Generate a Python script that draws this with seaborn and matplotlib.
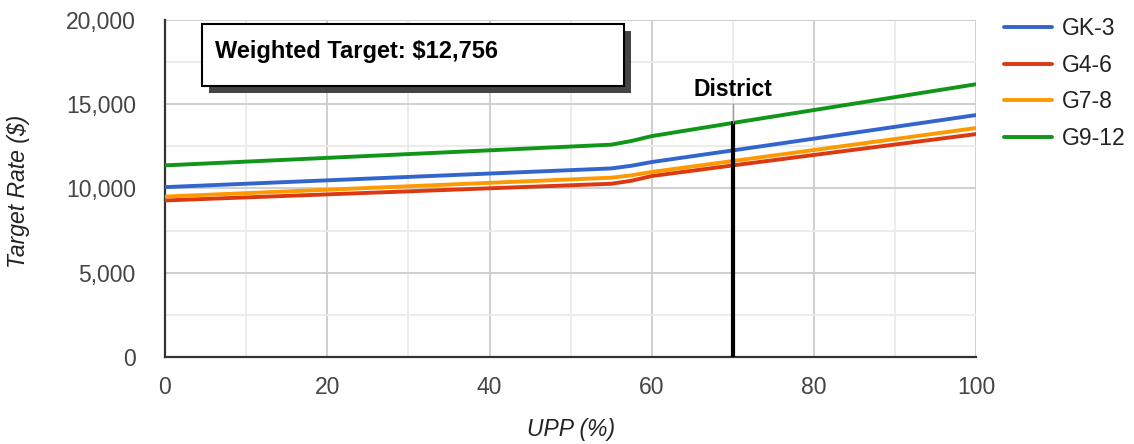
import numpy as np
import pandas as pd
import matplotlib.pyplot as plt
import seaborn as sns
from matplotlib.patches import Rectangle
from matplotlib.ticker import MultipleLocator, FuncFormatter

# данные
upp = [0, 55, 57.5, 60, 70, 100]
gk3 = [10080, 11190, 11350, 11570, 12260, 14360]
g46 = [9290, 10280, 10460, 10740, 11370, 13230]
g78 = [9520, 10640, 10780, 10980, 11630, 13590]
g912 = [11370, 12600, 12820, 13110, 13890, 16190]
grades = ['GK-3', 'G4-6', 'G7-8', 'G9-12']
colors = ['#3366cc', '#dc3912', '#ff9900', '#109618']
district_upp = 70
district_top = 13890
weighted_text = 'Weighted Target: $12,756'

df = pd.DataFrame({'UPP': upp * 4,
                   'rate': gk3 + g46 + g78 + g912,
                   'grade': np.repeat(grades, len(upp))})

sns.set_style('white')
plt.rcParams['font.family'] = ['Liberation Sans', 'DejaVu Sans']
fs = 16.5

fig = plt.figure(figsize=(11.34, 4.44), dpi=100)
ax = fig.add_axes([0.1455, 0.196, 0.7155, 0.759])

sns.lineplot(data=df, x='UPP', y='rate', hue='grade', hue_order=grades,
             palette=dict(zip(grades, colors)), linewidth=2.8, ax=ax, zorder=3)

ax.set_xlim(0, 100)
ax.set_ylim(0, 20000)
ax.xaxis.set_major_locator(MultipleLocator(20))
ax.xaxis.set_minor_locator(MultipleLocator(10))
ax.yaxis.set_major_locator(MultipleLocator(5000))
ax.yaxis.set_minor_locator(MultipleLocator(2500))
ax.yaxis.set_major_formatter(FuncFormatter(lambda v, p: f'{int(v):,}'))
ax.grid(which='major', color='#cccccc', linewidth=1.3, zorder=0)
ax.grid(which='minor', color='#ebebeb', linewidth=1.3, zorder=0)
ax.set_axisbelow(True)
ax.tick_params(which='both', length=0, labelsize=fs, colors='#444444')
ax.tick_params(axis='x', pad=14)
ax.tick_params(axis='y', pad=21)
for s in ['top', 'right']:
    ax.spines[s].set_visible(False)
for s in ['left', 'bottom']:
    ax.spines[s].set_color('#333333')
    ax.spines[s].set_linewidth(1.6)

ax.set_xlabel('UPP (%)', fontsize=fs, style='italic', color='#222222')
ax.set_ylabel('Target Rate ($)', fontsize=fs, style='italic', color='#222222')
ax.xaxis.set_label_coords(0.5, -0.18)
ax.yaxis.set_label_coords(-0.166, 0.49)

# линия района
ax.plot([district_upp, district_upp], [0, district_top], color='black', linewidth=3, zorder=4)
ax.plot([district_upp, district_upp], [district_top, 15000], color='#999999', linewidth=1, zorder=4)
ax.text(district_upp, 15480, 'District', ha='center', va='baseline', fontsize=fs,
        fontweight='bold', color='black', zorder=5)

# рамка с весовым таргетом
ax.add_patch(Rectangle((0.0456 + 0.0086, 0.804 - 0.0208), 0.520, 0.184, transform=ax.transAxes,
                       facecolor='#444444', edgecolor='none', zorder=5, clip_on=False))
ax.add_patch(Rectangle((0.0456, 0.804), 0.520, 0.184, transform=ax.transAxes,
                       facecolor='white', edgecolor='black', linewidth=1.5, zorder=6, clip_on=False))
ax.text(0.0617, 0.887, weighted_text, transform=ax.transAxes, fontsize=17,
        fontweight='bold', va='baseline', ha='left', color='black', zorder=7)

ax.legend_.remove()
handles, labels = ax.get_legend_handles_labels()
fig.legend(handles, labels, loc='upper left', bbox_to_anchor=(0.8854, 0.962),
           frameon=False, fontsize=fs, handlelength=2.1, labelspacing=0.6,
           handletextpad=0.44, borderpad=0, borderaxespad=0, labelcolor='#222222')

fig.savefig('out.png', dpi=100)
